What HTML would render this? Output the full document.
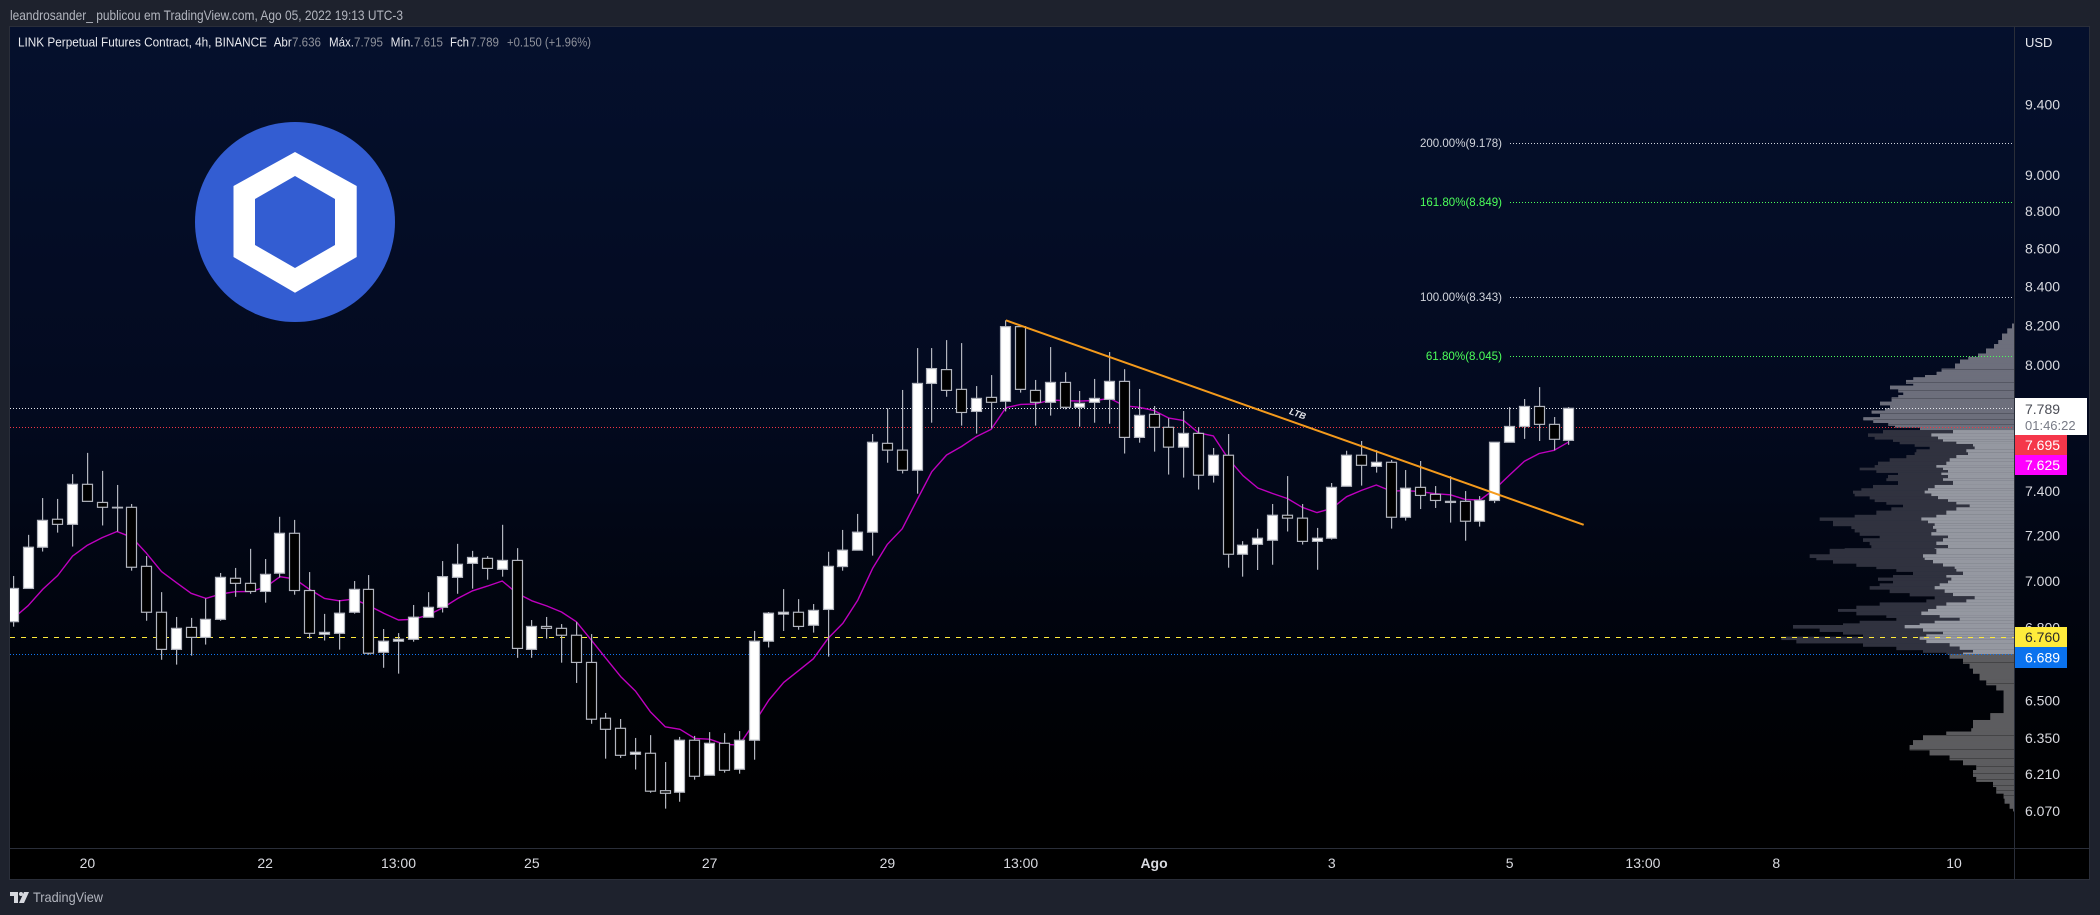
<!DOCTYPE html>
<html lang="pt">
<head>
<meta charset="utf-8">
<title>LINK Perpetual Futures Contract chart</title>
<style>
  html, body { margin: 0; padding: 0; background: #1e222d; }
  body { width: 2100px; height: 915px; overflow: hidden; position: relative; }
  svg { position: absolute; left: 0; top: 0; font-family: "Liberation Sans", sans-serif; }
</style>
</head>
<body>
<svg id="chart" width="2100" height="915" viewBox="0 0 2100 915" xmlns="http://www.w3.org/2000/svg">
  <defs>
    <linearGradient id="paneGradient" x1="0" y1="0" x2="0" y2="1">
      <stop offset="0" stop-color="#05102d"/>
      <stop offset="0.45" stop-color="#030a1f"/>
      <stop offset="0.78" stop-color="#000208"/>
      <stop offset="0.92" stop-color="#000000"/>
    </linearGradient>
    <clipPath id="paneClip"><rect x="10" y="27" width="2004" height="821"/></clipPath>
  </defs>
  <rect x="0" y="0" width="2100" height="915" fill="#1e222d"/>
  <rect x="10" y="27" width="2079" height="852" fill="url(#paneGradient)"/>
  <rect x="9.5" y="26.5" width="2080" height="853" fill="none" stroke="#2a2e39"/>
  <text x="10" y="20" font-size="14" fill="#b2b5be" textLength="393" lengthAdjust="spacingAndGlyphs">leandrosander_ publicou em TradingView.com, Ago 05, 2022 19:13 UTC-3</text>

  <g>
    <circle cx="295" cy="222" r="100" fill="#335dd2"/>
    <polygon points="295,152 356.7,186 356.7,257 295,292.7 233.5,257 233.5,186" fill="#ffffff"/>
    <polygon points="295,176 335,199 335,245 295,268 255,245 255,199" fill="#335dd2"/>
  </g>

  <g id="paneLayer" clip-path="url(#paneClip)"></g>
  <g id="axisLayer"></g>

  <line x1="2014.5" y1="27" x2="2014.5" y2="879" stroke="#2a2e39"/>
  <line x1="10" y1="848.5" x2="2089" y2="848.5" stroke="#2a2e39"/>

  <g font-size="13">
    <text x="18" y="46.5" fill="#e8e9ee" textLength="249" lengthAdjust="spacingAndGlyphs">LINK Perpetual Futures Contract, 4h, BINANCE</text>
    <text x="273.7" y="46.5" fill="#e8e9ee" textLength="18" lengthAdjust="spacingAndGlyphs">Abr</text>
    <text x="292" y="46.5" fill="#8f929b" textLength="29" lengthAdjust="spacingAndGlyphs">7.636</text>
    <text x="329" y="46.5" fill="#e8e9ee" textLength="25" lengthAdjust="spacingAndGlyphs">Máx.</text>
    <text x="354" y="46.5" fill="#8f929b" textLength="29" lengthAdjust="spacingAndGlyphs">7.795</text>
    <text x="390.6" y="46.5" fill="#e8e9ee" textLength="23" lengthAdjust="spacingAndGlyphs">Mín.</text>
    <text x="414" y="46.5" fill="#8f929b" textLength="29" lengthAdjust="spacingAndGlyphs">7.615</text>
    <text x="450" y="46.5" fill="#e8e9ee" textLength="19" lengthAdjust="spacingAndGlyphs">Fch</text>
    <text x="470" y="46.5" fill="#8f929b" textLength="29" lengthAdjust="spacingAndGlyphs">7.789</text>
    <text x="507" y="46.5" fill="#8f929b" textLength="84" lengthAdjust="spacingAndGlyphs">+0.150 (+1.96%)</text>
  </g>

  <text x="2025" y="47" font-size="13" fill="#e8e9ee">USD</text>

  <g>
    <polygon points="10,892 18,892 18,903 14,903 14,896 10,896" fill="#d6d8de"/>
    <circle cx="21" cy="894" r="2" fill="#d6d8de"/>
    <polygon points="24,892 29,892 24,903 19,903" fill="#d6d8de"/>
    <text x="33" y="902" font-size="14" fill="#b2b5be" textLength="70" lengthAdjust="spacingAndGlyphs">TradingView</text>
  </g>
</svg>

<script>
// ----- Candle data (4h bars) -----
const opens = [6.825,6.967,7.147,7.272,7.249,7.431,7.348,7.326,7.326,7.063,
6.865,6.709,6.801,6.759,6.835,7.011,6.989,6.954,7.033,7.209,
6.958,6.772,6.776,6.865,6.963,6.697,6.743,6.751,6.844,6.886,
7.015,7.076,7.098,7.050,7.089,6.709,6.805,6.797,6.768,6.655,
6.429,6.389,6.287,6.291,6.147,6.141,6.342,6.206,6.330,6.229,
6.342,6.743,6.857,6.865,6.810,6.877,7.062,7.134,7.214,7.622,
7.590,7.496,7.910,7.978,7.881,7.774,7.842,7.823,8.193,7.876,
7.818,7.915,7.794,7.818,7.832,7.920,7.650,7.760,7.698,7.604,
7.669,7.473,7.566,7.116,7.160,7.178,7.290,7.277,7.173,7.187,
7.422,7.566,7.514,7.533,7.281,7.417,7.385,7.353,7.353,7.263,
7.357,7.627,7.702,7.798,7.712,7.636];
const highs = [7.021,7.202,7.368,7.364,7.478,7.577,7.493,7.428,7.341,7.108,
6.951,6.845,6.841,6.924,7.034,7.056,7.140,7.095,7.283,7.269,
7.038,6.858,6.917,6.999,7.025,6.794,6.777,6.896,6.951,7.086,
7.162,7.131,7.108,7.247,7.143,6.832,6.845,6.815,6.824,6.773,
6.450,6.426,6.351,6.362,6.257,6.355,6.359,6.374,6.370,6.378,
6.786,6.866,6.964,6.921,6.900,7.127,7.224,7.296,7.666,7.789,
7.878,8.085,8.085,8.125,8.110,7.897,7.951,8.225,8.193,7.927,
8.090,7.965,7.873,7.932,8.065,7.980,7.883,7.800,7.741,7.776,
7.699,7.600,7.666,7.174,7.229,7.341,7.469,7.341,7.233,7.437,
7.587,7.633,7.590,7.544,7.497,7.539,7.423,7.469,7.400,7.377,
7.628,7.795,7.834,7.892,7.747,7.795];
const lows = [6.804,6.967,7.128,7.212,7.150,7.353,7.244,7.217,7.044,6.829,
6.666,6.646,6.683,6.729,6.829,6.931,6.944,6.906,7.014,6.940,
6.754,6.746,6.708,6.859,6.687,6.633,6.609,6.741,6.844,6.864,
6.944,6.966,7.005,7.018,6.674,6.674,6.754,6.654,6.571,6.407,
6.270,6.273,6.228,6.139,6.079,6.105,6.189,6.206,6.216,6.212,
6.266,6.717,6.786,6.791,6.779,6.679,7.044,7.134,7.110,7.531,
7.481,7.388,7.720,7.845,7.706,7.668,7.693,7.774,7.865,7.706,
7.754,7.784,7.701,7.720,7.715,7.574,7.625,7.583,7.476,7.462,
7.407,7.439,7.057,7.018,7.047,7.070,7.217,7.159,7.048,7.181,
7.422,7.425,7.485,7.230,7.266,7.318,7.323,7.257,7.176,7.239,
7.345,7.627,7.643,7.633,7.589,7.615];
const closes = [6.967,7.147,7.267,7.249,7.431,7.353,7.326,7.326,7.059,6.865,
6.709,6.797,6.759,6.835,7.015,6.989,6.954,7.028,7.209,6.958,
6.776,6.780,6.861,6.963,6.693,6.743,6.751,6.844,6.886,7.018,
7.072,7.102,7.054,7.089,6.713,6.805,6.797,6.768,6.655,6.425,
6.385,6.283,6.295,6.145,6.137,6.342,6.202,6.330,6.225,6.342,
6.743,6.861,6.865,6.805,6.873,7.063,7.134,7.214,7.627,7.590,
7.496,7.910,7.983,7.876,7.769,7.837,7.818,8.193,7.881,7.818,
7.915,7.794,7.813,7.837,7.920,7.650,7.755,7.698,7.604,7.669,
7.473,7.566,7.116,7.156,7.187,7.290,7.277,7.173,7.187,7.417,
7.566,7.519,7.533,7.281,7.413,7.380,7.357,7.348,7.263,7.357,
7.627,7.702,7.798,7.712,7.641,7.789];

// ----- Moving average -----
const maValues = [6.839,6.893,6.964,7.023,7.108,7.156,7.190,7.217,7.191,7.120,
7.040,6.992,6.946,6.924,6.943,6.953,6.954,6.972,7.018,7.008,
6.963,6.924,6.914,6.921,6.893,6.861,6.832,6.835,6.853,6.884,
6.924,6.957,6.977,6.999,6.946,6.914,6.892,6.866,6.825,6.749,
6.672,6.597,6.538,6.455,6.395,6.385,6.349,6.346,6.326,6.323,
6.409,6.502,6.573,6.621,6.670,6.755,6.818,6.917,7.054,7.160,
7.229,7.359,7.489,7.567,7.607,7.654,7.688,7.792,7.808,7.810,
7.829,7.826,7.824,7.827,7.837,7.801,7.794,7.778,7.742,7.730,
7.672,7.657,7.551,7.471,7.414,7.389,7.366,7.326,7.302,7.321,
7.374,7.403,7.428,7.400,7.402,7.397,7.388,7.383,7.362,7.359,
7.409,7.474,7.538,7.574,7.589,7.629];

// ----- Volume profile (row top price, total volume, light-part volume) -----
const profilePrices = [8.209,8.184,8.158,8.125,8.105,8.083,8.058,8.041,8.028,8.008,
7.983,7.967,7.951,7.940,7.927,7.910,7.899,7.883,7.867,7.853,
7.842,7.821,7.805,7.789,7.778,7.765,7.746,7.733,7.720,7.707,7.698,
7.685,7.669,7.654,7.641,7.630,7.619,7.607,7.594,7.580,7.567,
7.552,7.536,7.520,7.508,7.497,7.485,7.474,7.459,7.447,7.428,
7.413,7.402,7.389,7.377,7.363,7.351,7.339,7.326,7.311,7.292,
7.280,7.266,7.254,7.242,7.229,7.214,7.199,7.187,7.172,7.157,7.143,
7.140,7.116,7.101,7.091,7.076,7.062,7.052,7.040,7.025,7.014,
7.001,6.989,6.977,6.963,6.948,6.934,6.920,6.907,6.893,6.879,
6.868,6.853,6.842,6.829,6.818,6.811,6.797,6.783,6.772,6.762,
6.749,6.735,6.721,6.707,6.696,
6.689,6.672,6.651,6.631,6.610,6.583,6.563,6.542,6.449,6.422,6.389,6.376,6.362,6.342,6.323,6.304,6.284,6.265,6.246,6.226,6.201,6.182,6.162,6.137,6.118,6.099,6.080];
const profileTotals = [6,20,36,47,60,84,108,137,162,177,
217,232,267,302,324,302,372,347,332,347,
367,402,372,387,427,402,452,422,377,357,282,
393,438,418,363,343,298,253,293,298,323,
373,408,418,463,413,348,378,383,348,423,
458,483,478,433,418,383,333,368,413,478,
583,543,543,488,478,463,403,453,433,428,508,
553,613,593,543,473,413,353,303,363,408,
363,403,433,373,313,238,263,403,473,528,
473,383,353,463,513,663,583,513,453,698,
653,453,353,273,203,
193,153,133,123,103,83,53,31,71,123,128,203,273,303,313,253,193,153,113,123,113,63,53,31,28,13,3];
const profileLight = [6,20,36,47,60,84,108,137,162,177,
217,232,267,302,324,302,372,347,332,347,
367,402,372,387,427,402,452,422,377,357,282,
183,248,228,213,173,123,118,143,138,173,
193,203,233,213,198,218,198,213,183,238,
258,268,248,228,198,173,133,173,203,233,
278,258,238,243,233,248,198,213,233,198,238,
233,273,268,243,213,178,173,153,203,188,
198,223,238,208,183,118,143,203,233,258,
278,223,163,238,283,328,273,213,263,283,
263,193,163,123,153,
193,153,133,123,103,83,53,31,71,123,128,203,273,303,313,253,193,153,113,123,113,63,53,31,28,13,3];
const profileBottomPrice = 6.07;
const profileGapPrices = [7.978,7.915,7.873,7.837,7.762,7.733,7.709,6.655,6.570,6.359,6.306,6.272,6.240,6.214,6.188,6.168,6.149,6.130];
const valueAreaHigh = 7.695;
const valueAreaLow = 6.689;

// ----- Axis labels -----
const priceTicks = [9.4,9.0,8.8,8.6,8.4,8.2,8.0,7.4,7.2,7.0,6.8,6.5,6.35,6.21,6.07];
const timeTickBars = [5,17,26,35,47,59,68,77,89,101,110,119,131];
const timeTickLabels = ["20","22","13:00","25","27","29","13:00","Ago","3","5","13:00","8","10"];

// ----- Fibonacci levels -----
const fibPrices = [9.178,8.849,8.343,8.045];
const fibLabels = ["200.00%(9.178)","161.80%(8.849)","100.00%(8.343)","61.80%(8.045)"];
const fibColors = ["#d1d4dc","#4cff5a","#d1d4dc","#4cff5a"];

// ----- Trend line (bar index, price) -----
const trendBars = [67,106];
const trendPrices = [8.225,7.247];

// ----- Price lines -----
const lastPrice = 7.789;
const bidPrice = 7.695;
const maPriceTag = 7.625;
const yellowPrice = 6.76;
const bluePrice = 6.689;

// ----- Axis functions -----
const SVGNS = "http://www.w3.org/2000/svg";
function xOf(bar) { return 13.3 + 14.815 * bar; }
function yOf(price) { return 143.3 + 1615 * (Math.log(9.178) - Math.log(price)); }
function wOf(vol) { return vol / 3; }
const axisX = 2014;

function mk(tag, attrs, parent) {
  const el = document.createElementNS(SVGNS, tag);
  for (const k in attrs) el.setAttribute(k, attrs[k]);
  parent.appendChild(el);
  return el;
}

const pane = document.getElementById("paneLayer");
const axis = document.getElementById("axisLayer");

// Volume profile
const profileGroup = mk("g", {}, pane);


profilePrices.forEach(function (p, i) {
  const next = i + 1 < profilePrices.length ? profilePrices[i + 1] : profileBottomPrice;
  const y0 = yOf(p);
  const h = yOf(next) - y0 + 0.3;
  const above = p > valueAreaHigh;
  const below = p <= valueAreaLow + 0.001;
  const dark = above ? "#6d6f7c" : below ? "#5c5c5f" : "#30323f";
  const light = above ? "#6d6f7c" : below ? "#5c5c5f" : "#9598a1";
  const tw = wOf(profileTotals[i]);
  const outer = mk("rect", { x: axisX - tw, y: y0, width: tw, height: h, fill: dark }, profileGroup);
  
  
  const lw = wOf(profileLight[i]);
  const inner = mk("rect", { x: axisX - lw, y: y0, width: lw, height: h, fill: light }, profileGroup);
  
  
});
profileGapPrices.forEach(function (p) {
  let row = 0;
  profilePrices.forEach(function (rowPrice, i) { if (rowPrice >= p) row = i; });
  const y = Math.floor(yOf(p)) + 0.5;
  const gap = mk("line", { x1: axisX - wOf(profileTotals[row]), y1: y, x2: axisX, y2: y, stroke: p > valueAreaHigh ? "#555763" : "#444446", "stroke-width": 1 }, profileGroup);
  
  
});

// Fibonacci lines and labels
fibPrices.forEach(function (p, i) {
  const y = Math.floor(yOf(p)) + 0.5;
  const line = mk("line", { x1: 1510, y1: y, x2: 2013, y2: y, stroke: fibColors[i], "stroke-width": 1, "stroke-dasharray": "1 2" }, pane);
  
  
  const t = mk("text", { x: 1502, y: y + 3.5, "text-anchor": "end", "font-size": 12, fill: fibColors[i], textLength: fibLabels[i].length * 5.86, lengthAdjust: "spacingAndGlyphs" }, pane);
  
  
  t.textContent = fibLabels[i];
});

// Horizontal price lines
function hLine(price, color, dash, name) {
  const y = Math.floor(yOf(price)) + 0.5;
  const l = mk("line", { x1: 10, y1: y, x2: axisX, y2: y, stroke: color, "stroke-width": 1, "stroke-dasharray": dash }, pane);
  
  
}
hLine(lastPrice, "#e8e9ee", "1 2", "last-price-line");
hLine(bidPrice, "#f23645", "1 2", "red-price-line");
hLine(yellowPrice, "#ffeb3b", "5 6", "yellow-price-line");
hLine(bluePrice, "#1176f0", "1 2", "blue-price-line");

// Moving average drawn under candles
const maPoints = maValues.map(function (v, i) { return xOf(i).toFixed(1) + "," + yOf(v).toFixed(1); }).join(" ");
const maLine = mk("polyline", { points: maPoints, fill: "none", stroke: "#bf00bf", "stroke-width": 1.4, "stroke-linejoin": "round" }, pane);



// Candles
const candleGroup = mk("g", {}, pane);


opens.forEach(function (o, i) {
  const c = closes[i];
  const up = c > o;
  const cx = Math.floor(xOf(i));
  const g = mk("g", {}, candleGroup);
  
  
  const yh = yOf(highs[i]);
  const yl = yOf(lows[i]);
  const wick = mk("rect", { x: cx, y: yh, width: 1.2, height: yl - yh, fill: "#b2b5be" }, g);
  
  
  const top = yOf(Math.max(o, c));
  const bot = yOf(Math.min(o, c));
  const body = mk("rect", { x: cx - 4.5, y: top, width: 10, height: Math.max(bot - top, 0.6), fill: up ? "#ffffff" : "#000000", stroke: "#b2b5be", "stroke-width": 1.2 }, g);
  
  
});

// Trend line
const trend = mk("line", { x1: xOf(trendBars[0]), y1: yOf(trendPrices[0]), x2: xOf(trendBars[1]), y2: yOf(trendPrices[1]), stroke: "#f49a1c", "stroke-width": 2 }, pane);


const ltb = mk("text", { x: 0, y: 0, transform: "translate(1297.5,414.5) rotate(19.5)", "text-anchor": "middle", "dominant-baseline": "middle", "font-size": 9, "font-style": "italic", "font-weight": "bold", fill: "#e4e5ea" }, pane);


ltb.textContent = "LTB";

// Price axis ticks
priceTicks.forEach(function (p) {
  const t = mk("text", { x: 2025, y: yOf(p) + 5, "font-size": 14, fill: "#d9dae0" }, axis);
  
  
  t.textContent = p.toFixed(3);
});

// Time axis ticks
timeTickBars.forEach(function (b, i) {
  const isMonth = timeTickLabels[i] === "Ago";
  const t = mk("text", { x: xOf(b), y: 868, "text-anchor": "middle", "font-size": 14, "font-weight": isMonth ? "bold" : "normal", fill: "#d9dae0" }, axis);
  
  
  t.textContent = timeTickLabels[i];
});

// Price tags
function tag(price, y0, h, w, bg, fg, name) {
  const r = mk("rect", { x: axisX, y: y0, width: w, height: h, fill: bg }, axis);
  
  
  const t = mk("text", { x: 2025, y: y0 + h / 2 + 5, "font-size": 14, fill: fg }, axis);
  
  
  t.textContent = price.toFixed(3);
}
const lastBox = mk("rect", { x: axisX, y: 398, width: 73, height: 37, fill: "#ffffff" }, axis);


const lastText = mk("text", { x: 2025, y: 414, "font-size": 14, fill: "#4a4c55" }, axis);


lastText.textContent = lastPrice.toFixed(3);
const countdown = mk("text", { x: 2025, y: 430, "font-size": 13, fill: "#787b86" }, axis);


countdown.textContent = "01:46:22";
tag(bidPrice, 435, 20, 53, "#f5374a", "#ffffff", "red-price-tag");
tag(maPriceTag, 455, 20, 53, "#ff00ff", "#ffffff", "ma-price-tag");
tag(yellowPrice, 627, 20, 53, "#ffeb3b", "#2a2a2a", "yellow-price-tag");
tag(bluePrice, 647, 21, 53, "#0a72ee", "#ffffff", "blue-price-tag");
</script>
</body>
</html>
